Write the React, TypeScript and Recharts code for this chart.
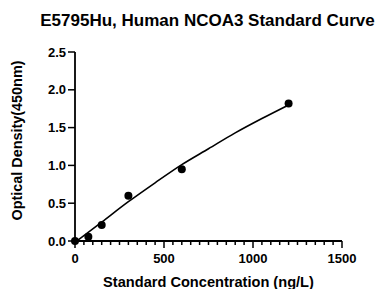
import { ComposedChart, Line, Scatter, XAxis, YAxis } from 'recharts'

const standardConc = [0, 75, 150, 300, 600, 1200]
const opticalDensity = [0.0, 0.055, 0.21, 0.6, 0.95, 1.82]

const curveConc = [10, 150, 300, 450, 600, 750, 900, 1050, 1200]
const curveOD = [0.0, 0.25, 0.52, 0.77, 1.01, 1.22, 1.43, 1.62, 1.8]

const yTicks = [0, 0.5, 1, 1.5, 2, 2.5]
const xMajorTicks = [0, 500, 1000, 1500]
const xMinorStep = 50

const points = standardConc.map((x, i) => ({ x, y: opticalDensity[i] }))
const curve = curveConc.map((x, i) => ({ x, y: curveOD[i] }))
const xTicks = Array.from({ length: 1500 / xMinorStep + 1 }, (_, i) => i * xMinorStep)

const FONT = '"Liberation Sans", Arial, sans-serif'

function XTick({ x, y, payload }: any) {
  const major = xMajorTicks.includes(payload.value)
  return (
    <g>
      <line x1={x} x2={x} y1={y} y2={y + (major ? 7 : 4)} stroke='#000' strokeWidth={1.5} />
      {major && (
        <text
          x={x}
          y={y + 22}
          textAnchor='middle'
          fontSize={13}
          fontWeight='bold'
          fontFamily={FONT}
          fill='#000'
        >
          {payload.value}
        </text>
      )}
    </g>
  )
}

function YTitle({ viewBox }: any) {
  const cy = viewBox.y + viewBox.height / 2 - 6
  return (
    <text
      x={22}
      y={cy}
      transform={`rotate(-90, 22, ${cy})`}
      textAnchor='middle'
      fontSize={14.4}
      fontWeight='bold'
      fontFamily={FONT}
      fill='#000'
    >
      Optical Density(450nm)
    </text>
  )
}

function XTitle({ viewBox }: any) {
  const cx = viewBox.x + viewBox.width / 2
  return (
    <text
      x={cx}
      y={287}
      textAnchor='middle'
      fontSize={14.6}
      fontWeight='bold'
      fontFamily={FONT}
      fill='#000'
    >
      Standard Concentration (ng/L)
    </text>
  )
}

export default function App() {
  return (
    <div style={{ position: 'absolute', left: 0, top: 0, width: 379, height: 289, background: '#fff' }}>
      <div
        style={{
          position: 'absolute',
          left: 0,
          top: 11,
          width: 415,
          textAlign: 'center',
          fontFamily: FONT,
          fontWeight: 'bold',
          fontSize: 17,
          lineHeight: '20px',
          color: '#000',
        }}
      >
        E5795Hu, Human NCOA3 Standard Curve
      </div>
      <ComposedChart
        width={379}
        height={289}
        margin={{ top: 52, right: 37, bottom: 0, left: 0 }}
      >
        <XAxis
          type='number'
          dataKey='x'
          domain={[0, 1500]}
          ticks={xTicks}
          interval={0}
          tick={<XTick />}
          tickSize={0}
          tickMargin={0}
          tickLine={false}
          height={48}
          axisLine={{ stroke: '#000', strokeWidth: 1.8 }}
          label={<XTitle />}
        />
        <YAxis
          type='number'
          dataKey='y'
          domain={[0, 2.5]}
          ticks={yTicks}
          interval={0}
          width={75}
          tickSize={7}
          tickMargin={2}
          tickFormatter={(v) => Number(v).toFixed(1)}
          tick={{ fill: '#000', fontSize: 13, fontWeight: 'bold', fontFamily: FONT }}
          tickLine={{ stroke: '#000', strokeWidth: 1.5 }}
          axisLine={{ stroke: '#000', strokeWidth: 1.8 }}
          label={<YTitle />}
        />
        <Line
          data={curve}
          dataKey='y'
          type='monotone'
          stroke='#000'
          strokeWidth={1.6}
          dot={false}
          isAnimationActive={false}
        />
        <Scatter
          data={points}
          dataKey='y'
          fill='#000'
          isAnimationActive={false}
          shape={(p: any) => <circle cx={p.cx} cy={p.cy} r={4} fill='#000' />}
        />
      </ComposedChart>
    </div>
  )
}
